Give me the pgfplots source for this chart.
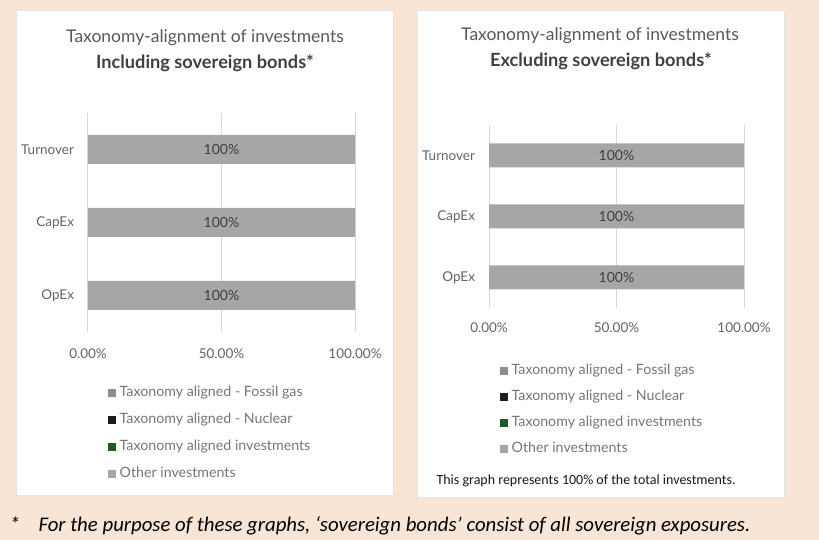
\documentclass[border=0pt]{standalone}
\usepackage{pgfplots}
\pgfplotsset{compat=1.18}
\usepackage{fontspec}
\setmainfont{Lato}
\newfontfamily\notefont{Carlito}
\definecolor{bgc}{RGB}{249,229,214}
\definecolor{gridc}{RGB}{217,217,217}
\definecolor{otherc}{RGB}{166,166,166}
\definecolor{fossilc}{RGB}{140,140,140}
\definecolor{nuclc}{RGB}{30,30,30}
\definecolor{greenc}{RGB}{32,90,32}
\definecolor{titlec}{RGB}{89,89,89}
\definecolor{boldc}{RGB}{64,64,64}
\definecolor{tickc}{RGB}{100,100,100}
\definecolor{legc}{RGB}{118,118,118}
\definecolor{labc}{RGB}{64,64,64}
\definecolor{zeroc}{RGB}{248,248,248}

\tikzset{
  barlab/.style={text=labc, font=\fontsize{14}{15}\selectfont},
  zerolab/.style={text=zeroc, font=\fontsize{14}{15}\selectfont},
}
\pgfplotsset{
  legsq/.style={legend image code/.code={\fill[##1,draw=none] (0pt,-4pt) rectangle (8pt,4pt);}},
  common/.style={
    scale only axis, anchor=south west, clip=false,
    xbar stacked, xmin=0, xmax=100, ymin=-0.5, ymax=2.5,
    ytick={0,1,2}, yticklabels={OpEx,CapEx,Turnover},
    xtick={0,50,100}, xticklabels={0.00\%,50.00\%,100.00\%},
    xmajorgrids, ymajorgrids=false, grid style={draw=gridc, line width=1pt},
    axis line style={draw=none}, major tick length=0pt,
    tick label style={font=\fontsize{13.5}{15}\selectfont, text=tickc},
    yticklabel style={font=\fontsize{13.5}{15}\selectfont},
    legend cell align=left,
    legend style={draw=none, fill=none, inner sep=0pt, font=\fontsize{14.2}{15}\selectfont, text=legc,
      nodes={inner sep=1.5pt, text height=9.5pt, text depth=3pt},
      /tikz/every odd column/.append style={column sep=2pt}},
  },
}

\begin{document}
\begin{tikzpicture}[x=1pt,y=1pt]
\fill[bgc] (0,0) rectangle (819,540);
\fill[white, draw=gray!20] (16,45) rectangle (393,530);
\fill[white, draw=gray!20] (417,43) rectangle (784,530);

\node[text=titlec, font=\fontsize{17.5}{19}\selectfont] at (205,502) {Taxonomy-alignment of investments};
\node[text=boldc, font=\bfseries\fontsize{18.2}{20}\selectfont] at (205,477) {Including sovereign bonds*};
\node[text=titlec, font=\fontsize{17.5}{19}\selectfont] at (600,504) {Taxonomy-alignment of investments};
\node[text=boldc, font=\bfseries\fontsize{18.2}{20}\selectfont] at (601,479) {Excluding sovereign bonds*};

\begin{axis}[common, at={(88pt,208pt)}, width=267pt, height=219pt, bar width=29pt,
  xticklabel shift=13.5pt, yticklabel shift=10.5pt,
  legend style={at={(axis description cs:0.075,-0.242)}, anchor=north west, row sep=11.5pt}]
\addplot[fill=fossilc, draw=none, legsq] coordinates {(0,0) (0,1) (0,2)};
\addlegendentry{Taxonomy aligned - Fossil gas}
\addplot[fill=nuclc, draw=none, legsq] coordinates {(0,0) (0,1) (0,2)};
\addlegendentry{Taxonomy aligned - Nuclear}
\addplot[fill=greenc, draw=none, legsq] coordinates {(0,0) (0,1) (0,2)};
\addlegendentry{Taxonomy aligned investments}
\addplot[fill=otherc, draw=none, legsq, nodes near coords={100\%},
  every node near coord/.append style={barlab, anchor=center}] coordinates {(100,0) (100,1) (100,2)};
\addlegendentry{Other investments}
\addplot[draw=none, fill=none, forget plot, nodes near coords={0\%},
  every node near coord/.append style={zerolab, anchor=center}] coordinates {(0,0) (0,1) (0,2)};
\end{axis}

\begin{axis}[common, at={(489pt,232pt)}, width=255pt, height=183pt, bar width=24pt,
  xticklabel shift=11.5pt, yticklabel shift=10.5pt,
  legend style={at={(axis description cs:0.043,-0.30)}, anchor=north west, row sep=10.5pt}]
\addplot[fill=fossilc, draw=none, legsq] coordinates {(0,0) (0,1) (0,2)};
\addlegendentry{Taxonomy aligned - Fossil gas}
\addplot[fill=nuclc, draw=none, legsq] coordinates {(0,0) (0,1) (0,2)};
\addlegendentry{Taxonomy aligned - Nuclear}
\addplot[fill=greenc, draw=none, legsq] coordinates {(0,0) (0,1) (0,2)};
\addlegendentry{Taxonomy aligned investments}
\addplot[fill=otherc, draw=none, legsq, nodes near coords={100\%},
  every node near coord/.append style={barlab, anchor=center}] coordinates {(100,0) (100,1) (100,2)};
\addlegendentry{Other investments}
\addplot[draw=none, fill=none, forget plot, nodes near coords={0\%},
  every node near coord/.append style={zerolab, anchor=center}] coordinates {(0,0) (0,1) (0,2)};
\end{axis}

\node[anchor=base west, text=black!90, font=\notefont\fontsize{14}{16}\selectfont] at (433,55) {This graph represents 100\% of the total investments.};
\node[anchor=base west, font=\notefont\itshape\fontsize{20.8}{22}\selectfont] at (6,8) {*};
\node[anchor=base west, font=\notefont\itshape\fontsize{20.8}{22}\selectfont] at (35,8) {For the purpose of these graphs, ‘sovereign bonds’ consist of all sovereign exposures.};
\pgfresetboundingbox
\useasboundingbox (0,0) rectangle (819,540);
\end{tikzpicture}
\end{document}
